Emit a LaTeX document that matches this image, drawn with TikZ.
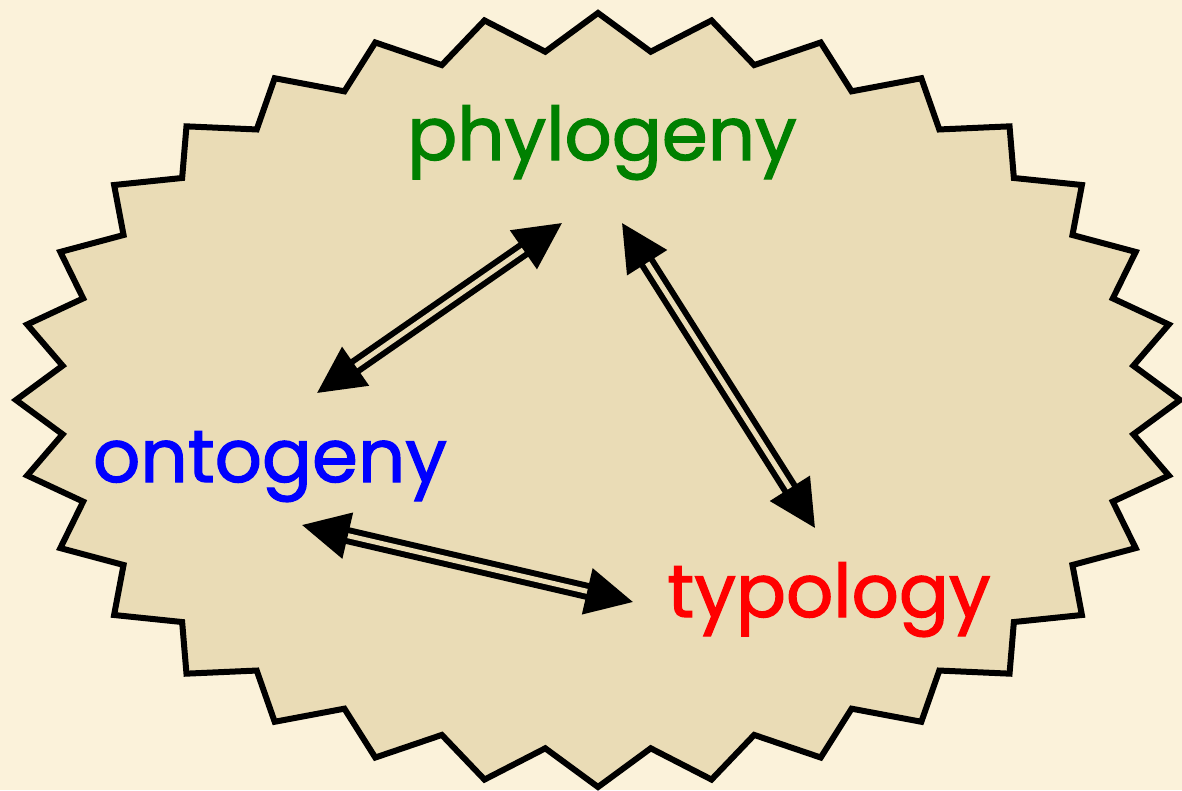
\documentclass[tikz,border=0pt]{standalone}
\usepackage{fontspec}
\setmainfont{Poppins}[FakeBold=1.6]
\usetikzlibrary{arrows.meta, positioning}

\definecolor{parchment}{RGB}{251,242,218}
\definecolor{sealfill}{RGB}{234,220,182}
\definecolor{phygreen}{RGB}{0,128,0}

\begin{document}
\begin{tikzpicture}[
  x=1pt, y=-1pt,
  every node/.style={font=\fontsize{74}{80}\selectfont, inner sep=0pt, anchor=base},
  seal/.style={draw=black, line width=6pt, line join=miter, fill=sealfill},
  link/.style={
    double=sealfill, double distance=5pt, line width=6pt,
    {Triangle[length=47pt,width=46pt]}-{Triangle[length=47pt,width=46pt]}
  },
]

\fill[parchment] (0,0) rectangle (1182,790);
\useasboundingbox (0,0) rectangle (1182,790);

% 32-point seal
\draw[seal] (598,13)
  \foreach \k in {1,...,63}{
    -- ({598+(538+44*(0.5+0.5*cos(180*\k)))*cos(90+5.625*\k)},
        {400-(350+37*(0.5+0.5*cos(180*\k)))*sin(90+5.625*\k)})
  } -- cycle;

\node[text=phygreen] (phy) at (602,160) {phylogeny};
\node[text=blue] (onto) at (270,482) {ontogeny};
\node[text=red] (typo) at (829,617) {typology};

% arrow ends
\coordinate (phy-l) at (562,223);
\coordinate (phy-r) at (622,223);
\coordinate (onto-t) at (317,393);
\coordinate (onto-b) at (302,525);
\coordinate (typo-t) at (815,528);
\coordinate (typo-l) at (633,602);

\draw[link] (phy-l) -- (onto-t);
\draw[link] (phy-r) -- (typo-t);
\draw[link] (onto-b) -- (typo-l);

\end{tikzpicture}
\end{document}
